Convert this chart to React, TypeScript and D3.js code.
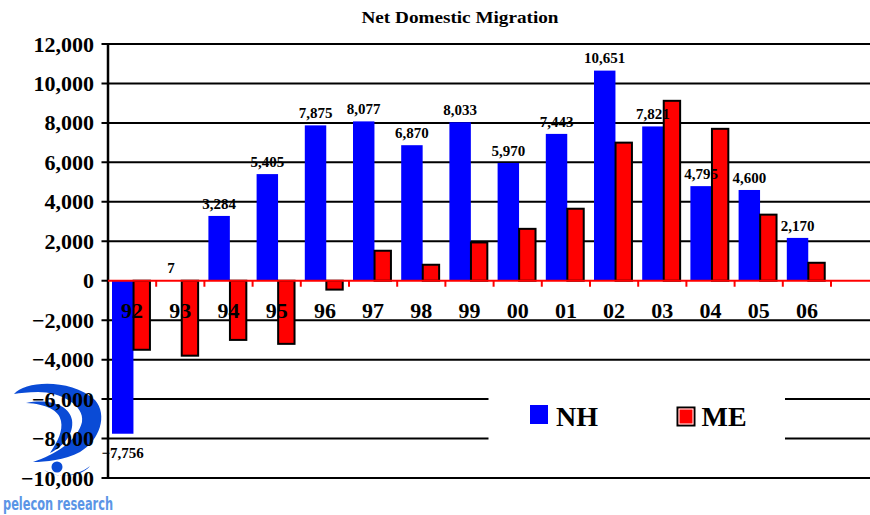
import React from "react";
import * as d3 from "d3";

const categories = ["92", "93", "94", "95", "96", "97", "98", "99", "00", "01", "02", "03", "04", "05", "06"];
const nhValues = [-7756, 7, 3284, 5405, 7875, 8077, 6870, 8033, 5970, 7443, 10651, 7821, 4795, 4600, 2170];
const meValues = [-3500, -3800, -3000, -3200, -450, 1520, 810, 1940, 2630, 3650, 7000, 9120, 7700, 3350, 910];
const yTicks = [-10000, -8000, -6000, -4000, -2000, 0, 2000, 4000, 6000, 8000, 10000, 12000];
const seriesNames = ["NH", "ME"];
const title = "Net Domestic Migration";

const W = 870;
const H = 515;
const SERIF = "'Liberation Serif', 'Times New Roman', serif";
const BLUE = "#0000ff";
const RED = "#ff0000";

export default function App() {
  const x = d3.scaleBand<string>().domain([...categories, ""]).range([108, 879.2]).padding(0);
  const y = d3.scaleLinear().domain([-10000, 12000]).range([478, 44]);
  const bw = x.bandwidth();
  const fmt = d3.format(",");
  const y0 = y(0);

  const blueX = (c: string) => (x(c) as number) + bw * 0.083;
  const blueW = bw * 0.445;
  const redX = (c: string) => (x(c) as number) + bw * 0.53;
  const redW = bw * 0.34;

  return (
    <div style={{ position: "fixed", left: 0, top: 0 }}>
      <svg width={W} height={H} style={{ display: "block", background: "#fff" }}>
        <rect x={0} y={0} width={W} height={H} fill="#fff" />
        {/* logo */}
        <g fill="#0a4bd6">
          <path d="M14,394 C25,381 70,378 95,400 C108,415 100,440 80,452 C65,460 45,462 33,462 C55,455 78,440 82,422 C85,405 60,392 38,392 C28,392 20,393 14,394 Z" />
          <path d="M26,403 C50,398 70,406 72,420 C74,434 64,446 50,453 C58,441 63,431 61,421 C59,410 46,404 26,403 Z" />
          <circle cx={57} cy={467} r={5.5} />
          <path d="M44,470 C56,479 76,477 90,466 C82,476 60,480 44,470 Z" />
        </g>
        <text x={3} y={510} fontFamily="'DejaVu Sans', 'Liberation Sans', sans-serif" fontWeight="bold" fontSize={17}
          fill="#5b95e6" textLength={110} lengthAdjust="spacingAndGlyphs">pelecon research</text>

        {/* title */}
        <text x={460} y={23} textAnchor="middle" fontFamily={SERIF} fontWeight="bold" fontSize={16.5}
          textLength={197} lengthAdjust="spacingAndGlyphs">{title}</text>

        {/* gridlines */}
        {yTicks.filter((t) => t !== 0).map((t) => (
          <line key={t} x1={101.5} x2={W} y1={y(t)} y2={y(t)} stroke="#000" strokeWidth={2} />
        ))}
        <line x1={101.5} x2={108} y1={y0} y2={y0} stroke="#000" strokeWidth={2} />

        {/* y axis labels */}
        {yTicks.map((t) => (
          <text key={t} x={94} y={y(t) + 7.5} textAnchor="end" fontFamily={SERIF} fontWeight="bold" fontSize={22}>
            {fmt(t)}
          </text>
        ))}

        {/* bars */}
        {categories.map((c, i) => (
          <g key={c}>
            <rect x={blueX(c)} width={blueW} y={Math.min(y(nhValues[i]), y0)} height={Math.abs(y(nhValues[i]) - y0)} fill={BLUE} />
            <rect x={redX(c)} width={redW} y={Math.min(y(meValues[i]), y0)} height={Math.abs(y(meValues[i]) - y0)}
              fill={RED} stroke="#000" strokeWidth={2} />
          </g>
        ))}

        {/* y axis line */}
        <line x1={108} x2={108} y1={y(12000) - 1} y2={y(-10000) + 1} stroke="#000" strokeWidth={2.5} />

        {/* zero axis */}
        <line x1={108} x2={W} y1={y0} y2={y0} stroke={RED} strokeWidth={2} />
        {[...categories, ""].map((c, i) => i > 0 ? (
          <line key={"t" + i} x1={x(c) as number} x2={x(c) as number} y1={y0} y2={y0 + 6} stroke={RED} strokeWidth={2} />
        ) : null)}

        {/* category labels */}
        {categories.map((c) => (
          <text key={"c" + c} x={(x(c) as number) + bw / 2} y={318} textAnchor="middle" fontFamily={SERIF}
            fontWeight="bold" fontSize={22}>{c}</text>
        ))}

        {/* value labels */}
        {categories.map((c, i) => {
          const v = nhValues[i];
          const cx = blueX(c) + blueW / 2;
          const ty = v >= 0 ? y(v) - 7.3 : y(v) + 24;
          return (
            <text key={"v" + c} x={cx} y={ty} textAnchor="middle" fontFamily={SERIF} fontWeight="bold" fontSize={15}>
              {fmt(v)}
            </text>
          );
        })}

        {/* legend */}
        <rect x={488.5} y={372} width={296.5} height={86} fill="#fff" />
        <rect x={530} y={405} width={18} height={19} fill={BLUE} />
        <text x={556} y={426} fontFamily={SERIF} fontWeight="bold" fontSize={28}>{seriesNames[0]}</text>
        <rect x={677.5} y={407.5} width={17} height={18} fill={RED} stroke="#000" strokeWidth={2} />
        <rect x={679} y={409} width={14} height={15} fill="none" stroke="#fff" strokeWidth={1} />
        <text x={701.5} y={426} fontFamily={SERIF} fontWeight="bold" fontSize={28}>{seriesNames[1]}</text>
      </svg>
    </div>
  );
}
